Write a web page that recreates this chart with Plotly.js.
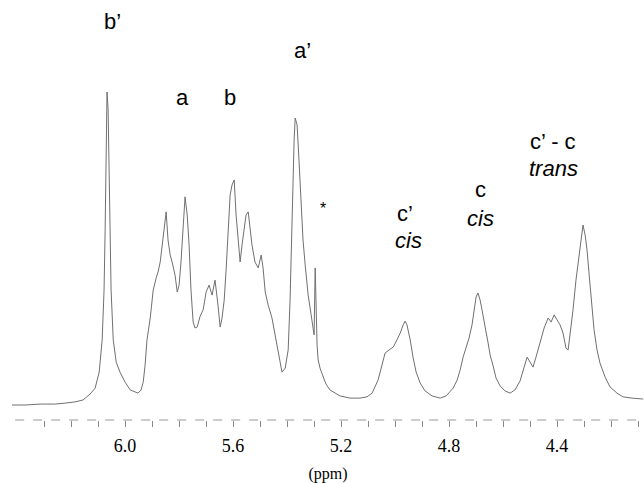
<!DOCTYPE html>
<html>
<head>
<meta charset="utf-8">
<script src="https://cdn.plot.ly/plotly-3.0.1.min.js"></script>
<style>html,body{margin:0;padding:0;background:#fff;}#chart{width:644px;height:483px;}</style>
</head>
<body>
<div id="chart"></div>
<script>
// Chemical shift (ppm) and relative intensity
const ppm = [6.419,6.370,6.315,6.259,6.222,6.185,6.156,6.130,6.111,6.096,6.085,6.078,6.074,6.070,6.067,6.063,6.059,6.056,6.052,6.044,6.033,6.019,6.000,5.981,5.967,5.952,5.941,5.933,5.926,5.919,5.907,5.896,5.885,5.878,5.870,5.863,5.856,5.848,5.841,5.833,5.826,5.815,5.807,5.800,5.793,5.785,5.778,5.770,5.763,5.756,5.748,5.741,5.733,5.722,5.711,5.700,5.689,5.678,5.667,5.656,5.648,5.641,5.633,5.626,5.619,5.611,5.604,5.596,5.589,5.581,5.574,5.567,5.559,5.552,5.544,5.537,5.530,5.519,5.507,5.496,5.489,5.481,5.470,5.456,5.444,5.433,5.419,5.407,5.396,5.389,5.381,5.374,5.370,5.363,5.356,5.348,5.341,5.333,5.322,5.311,5.304,5.300,5.296,5.293,5.289,5.285,5.278,5.270,5.256,5.241,5.204,5.167,5.130,5.104,5.085,5.063,5.048,5.037,5.022,5.007,4.993,4.981,4.970,4.963,4.956,4.944,4.933,4.922,4.907,4.889,4.863,4.833,4.811,4.796,4.785,4.770,4.759,4.748,4.737,4.726,4.715,4.707,4.700,4.693,4.685,4.678,4.670,4.663,4.656,4.648,4.637,4.626,4.611,4.593,4.574,4.556,4.537,4.522,4.511,4.500,4.489,4.478,4.463,4.448,4.433,4.422,4.411,4.400,4.389,4.378,4.367,4.359,4.352,4.341,4.330,4.319,4.311,4.304,4.296,4.289,4.281,4.274,4.263,4.252,4.241,4.222,4.204,4.178,4.156,4.122,4.081];
const intensity = [0,0,0.3,0.3,0.6,1.0,1.6,3.5,5.4,10.5,20.8,36.7,55.9,81.5,100,94.2,75.1,55.9,36.7,20.8,13.7,10.5,7.3,4.8,4.2,3.8,4.8,7.3,12.8,20.8,27.8,36.7,40.6,42.5,45.7,51.1,57.5,61.7,52.7,47.9,45.7,41.5,36.1,38.3,45.7,57.5,66.5,60.7,51.1,36.7,26.5,24.6,24.9,28.4,30.4,36.1,38.3,35.1,39.9,31.9,24.9,27.8,33.5,43.1,55.9,67.1,70.3,71.9,60.7,51.1,45.7,51.1,56.5,60.7,61.7,55.3,51.1,45.7,43.8,47.9,43.8,36.1,31.9,27.8,22.4,16.9,10.5,11.8,17.6,33.5,62.3,84.7,91.7,89.5,78.3,65.5,52.7,44.7,35.1,28.8,24.0,22.4,43.8,31.9,19.2,14.4,11.8,9.9,6.7,4.8,2.9,2.2,2.2,2.6,3.8,8.0,12.8,16.6,17.6,18.5,20.8,23.0,25.6,26.8,25.6,20.8,15.0,10.5,7.0,4.5,2.9,2.2,2.9,4.2,5.4,8.0,11.2,15.3,18.5,21.4,25.6,30.4,34.5,35.8,33.5,30.4,27.2,23.3,20.1,16.0,12.5,8.6,6.1,4.5,3.8,4.8,7.7,11.8,15.3,13.7,12.1,15.3,19.8,24.6,27.8,26.5,28.8,27.2,25.6,23.0,18.2,17.6,22.4,30.4,39.9,47.9,54.3,57.5,54.3,49.5,41.5,33.5,24.0,17.6,13.4,8.9,5.8,3.8,2.6,2.2,1.9];

// Axis ticks
const tickValues = [6.3,6.2,6.1,6.0,5.9,5.8,5.7,5.6,5.5,5.4,5.3,5.2,5.1,5.0,4.9,4.8,4.7,4.6,4.5,4.4,4.3,4.2,4.1];
const tickLabels = ["","","","6.0","","","","5.6","","","","5.2","","","","4.8","","","","4.4","","",""];

// Peak assignments
const labelText = ["b’","a","b","a’","*","c’","<i>cis</i>","c","<i>cis</i>","c’ - c","<i>trans</i>"];
const labelPpm  = [6.048,5.789,5.611,5.344,5.267,4.963,4.952,4.685,4.685,4.415,4.415];
const labelInt  = [122.4,98.4,98.4,113.4,62.9,61.3,52.7,69.0,59.7,84.3,75.7];

const annotations = labelText.map((t, i) => ({
  x: labelPpm[i], y: labelInt[i], xref: 'x', yref: 'y',
  text: t, showarrow: false,
  font: {family: 'Liberation Sans, Arial, sans-serif', size: t === '*' ? 16 : 22, color: '#000'},
  xanchor: 'center', yanchor: 'middle'
}));

const trace = {
  x: ppm, y: intensity, type: 'scatter', mode: 'lines',
  line: {color: '#707070', width: 1}, hoverinfo: 'skip'
};

const layout = {
  width: 644, height: 483,
  margin: {l: 12, r: 0, t: 0, b: 63, pad: 0},
  paper_bgcolor: '#fff', plot_bgcolor: '#fff',
  showlegend: false,
  xaxis: {
    range: [6.419, 4.078], autorange: false,
    showgrid: false, zeroline: false,
    showline: false,
    ticks: 'outside', ticklen: 6, tickcolor: '#888', tickwidth: 1,
    tickmode: 'array', tickvals: tickValues, ticktext: tickLabels,
    ticklabelstandoff: 3,
    tickfont: {family: 'Liberation Serif, Times New Roman, serif', size: 18, color: '#000'},
    title: {text: '(ppm)', standoff: 14,
            font: {family: 'Liberation Serif, Times New Roman, serif', size: 16, color: '#000'}}
  },
  yaxis: {
    range: [-4.79, 129.4], autorange: false,
    visible: false, showgrid: false, zeroline: false
  },
  shapes: [{
    type: 'line', xref: 'paper', yref: 'paper', x0: 0.005, x1: 1, y0: 0, y1: 0,
    line: {color: '#999', width: 1, dash: 'dash'}
  }],
  annotations: annotations
};

Plotly.newPlot('chart', [trace], layout, {staticPlot: true, displayModeBar: false});
</script>
</body>
</html>
